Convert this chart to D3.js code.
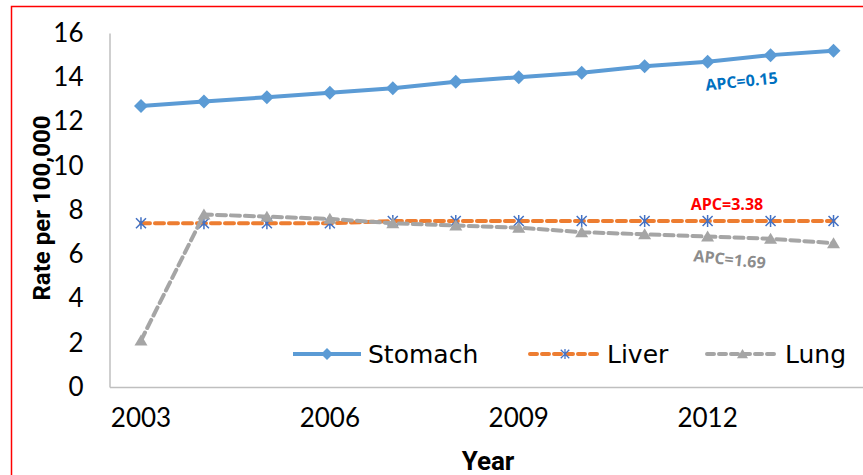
<!DOCTYPE html>
<html>
<head>
<meta charset="utf-8">
<script src="https://cdn.jsdelivr.net/npm/d3@7"></script>
<style>
  html, body { margin: 0; padding: 0; background: #fff; }
  svg { display: block; }
</style>
</head>
<body>
<svg id="chart" width="863" height="475"></svg>
<script>
// Cancer incidence rates per 100,000, 2003-2014
const years = [2003, 2004, 2005, 2006, 2007, 2008, 2009, 2010, 2011, 2012, 2013, 2014];
const stomach = [12.7, 12.9, 13.1, 13.3, 13.5, 13.8, 14.0, 14.2, 14.5, 14.7, 15.0, 15.2];
const liver = [7.4, 7.4, 7.4, 7.4, 7.5, 7.5, 7.5, 7.5, 7.5, 7.5, 7.5, 7.5];
const lung = [2.1, 7.8, 7.7, 7.6, 7.4, 7.3, 7.2, 7.0, 6.9, 6.8, 6.7, 6.5];
const yTicks = [0, 2, 4, 6, 8, 10, 12, 14, 16];
const xTickYears = [2003, 2006, 2009, 2012];
const seriesNames = ["Stomach", "Liver", "Lung"];
const apcLabels = ["APC=0.15", "APC=3.38", "APC=1.69"];

const svg = d3.select("#chart");
const W = 863, H = 475;
const plot = { left: 109.5, right: 865, top: 33, bottom: 387 };

const FONT = "Lato, 'DejaVu Sans', sans-serif";
const LEGEND_FONT = "'DejaVu Sans', Lato, sans-serif";
const BOLD = "'Open Sans', 'DejaVu Sans', sans-serif";
const TITLE_FONT = "Roboto, 'DejaVu Sans', sans-serif";

// outer frame
svg.append("rect")
  .attr("x", 11.5).attr("y", 6.5)
  .attr("width", W + 10).attr("height", H + 10)
  .attr("fill", "none").attr("stroke", "#ff0000").attr("stroke-width", 1.5);

const x = d3.scaleBand().domain(years).range([plot.left, plot.right]);
const y = d3.scaleLinear().domain([0, 16]).range([plot.bottom, plot.top]);
const cx = d => x(d) + x.bandwidth() / 2;

// axes
const yAxis = d3.axisLeft(y).tickValues(yTicks).tickSize(0).tickPadding(26);
const gy = svg.append("g").attr("transform", `translate(${plot.left},0)`).call(yAxis);
gy.select(".domain").attr("stroke", "#bfbfbf").attr("stroke-width", 1.5);
gy.selectAll("text").attr("font-family", FONT).attr("font-size", 26).attr("fill", "#000");

const xAxis = d3.axisBottom(x).tickValues(xTickYears).tickSize(0).tickPadding(22).tickFormat(d3.format("d"));
const gx = svg.append("g").attr("transform", `translate(0,${plot.bottom})`).call(xAxis);
gx.select(".domain").attr("stroke", "#bfbfbf").attr("stroke-width", 1.5);
gx.selectAll("text").attr("font-family", FONT).attr("font-size", 26).attr("fill", "#000");

// axis titles
svg.append("text")
  .attr("transform", `translate(50,208) rotate(-90)`)
  .attr("text-anchor", "middle")
  .attr("font-family", TITLE_FONT).attr("font-weight", "bold").attr("font-size", 24)
  .text("Rate per 100,000");
svg.append("text")
  .attr("x", 488).attr("y", 470)
  .attr("text-anchor", "middle")
  .attr("font-family", TITLE_FONT).attr("font-weight", "bold").attr("font-size", 26)
  .text("Year");

const line = d3.line().x((d, i) => cx(years[i])).y(d => y(d));

// marker shapes
const diamond = "M0,-7L7,0L0,7L-7,0Z";
const star = "M-5,-5L5,5M5,-5L-5,5M0,-6L0,6";
const tri = "M0,-6L6.5,5L-6.5,5Z";

const styles = {
  Stomach: { color: "#5b9bd5", dash: null, marker: diamond, mfill: "#5b9bd5", mstroke: null },
  Liver: { color: "#ed7d31", dash: "9,5", marker: star, mfill: "none", mstroke: "#4472c4" },
  Lung: { color: "#a5a5a5", dash: "9,5", marker: tri, mfill: "#a5a5a5", mstroke: null }
};
const dataSets = { Stomach: stomach, Liver: liver, Lung: lung };

seriesNames.forEach(name => {
  const s = styles[name];
  const vals = dataSets[name];
  const g = svg.append("g");
  g.append("path")
    .attr("d", line(vals))
    .attr("fill", "none")
    .attr("stroke", s.color)
    .attr("stroke-width", 4)
    .attr("stroke-linecap", s.dash ? "round" : "butt")
    .attr("stroke-dasharray", s.dash);
  g.selectAll("path.m").data(vals).enter().append("path")
    .attr("class", "m")
    .attr("d", s.marker)
    .attr("transform", (d, i) => `translate(${cx(years[i])},${y(d)})`)
    .attr("fill", s.mfill)
    .attr("stroke", s.mstroke || "none")
    .attr("stroke-width", 1.5);
});

// APC annotations
const apcPos = [
  { x: 742, y: 87, rot: -6, color: "#0070c0" },
  { x: 727, y: 210, rot: 0, color: "#ff0000" },
  { x: 729, y: 265, rot: 6, color: "#8c8c8c" }
];
apcLabels.forEach((t, i) => {
  const p = apcPos[i];
  svg.append("text")
    .attr("transform", `translate(${p.x},${p.y}) rotate(${p.rot})`)
    .attr("text-anchor", "middle")
    .attr("font-family", BOLD).attr("font-weight", "bold").attr("font-size", 16)
    .attr("fill", p.color)
    .text(t);
});

// legend
const legendItems = [
  { name: "Stomach", x0: 293, x1: 361 },
  { name: "Liver", x0: 530, x1: 600 },
  { name: "Lung", x0: 707, x1: 778 }
];
const ly = 354;
legendItems.forEach(it => {
  const s = styles[it.name];
  const g = svg.append("g");
  g.append("line")
    .attr("x1", it.x0).attr("x2", it.x1).attr("y1", ly).attr("y2", ly)
    .attr("stroke", s.color).attr("stroke-width", 4)
    .attr("stroke-linecap", s.dash ? "round" : "butt")
    .attr("stroke-dasharray", s.dash ? "7,5" : null);
  g.append("path")
    .attr("d", s.marker)
    .attr("transform", `translate(${(it.x0 + it.x1) / 2},${ly}) scale(0.85)`)
    .attr("fill", s.mfill)
    .attr("stroke", s.mstroke || "none")
    .attr("stroke-width", 1.5);
  g.append("text")
    .attr("x", it.x1 + 7).attr("y", ly + 9)
    .attr("font-family", LEGEND_FONT).attr("font-size", 25)
    .attr("fill", "#000")
    .text(it.name);
});
</script>
</body>
</html>
